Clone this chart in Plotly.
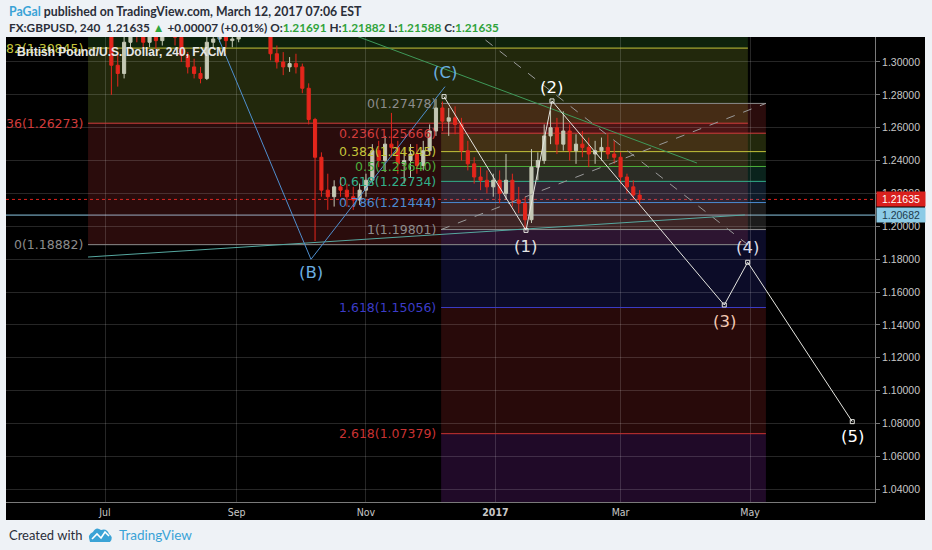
import plotly.graph_objects as go
import pandas as pd

# ------------------------------------------------------------------ data
bar_start = "2016-07-01"          # 3-day bars
opens = [1.332, 1.322, 1.298, 1.293, 1.312, 1.328, 1.318, 1.312, 1.318, 1.313, 1.322,
         1.330, 1.315, 1.304, 1.297, 1.293, 1.290, 1.312, 1.314, 1.322, 1.313,
         1.314, 1.330, 1.335, 1.328, 1.322, 1.324, 1.305, 1.300, 1.297, 1.299,
         1.297, 1.284, 1.265, 1.242, 1.222, 1.218, 1.224, 1.222, 1.218, 1.216,
         1.222, 1.228, 1.246, 1.240, 1.250, 1.248, 1.238, 1.240, 1.244, 1.237,
         1.246, 1.258, 1.272, 1.264, 1.266, 1.262, 1.246, 1.238, 1.230, 1.228, 1.224,
         1.228, 1.220, 1.228, 1.216, 1.214, 1.204, 1.236, 1.240, 1.255, 1.260,
         1.250, 1.258, 1.246, 1.250, 1.248, 1.244, 1.246, 1.248, 1.244,
         1.242, 1.230, 1.224, 1.219]
highs = [1.338, 1.330, 1.306, 1.318, 1.336, 1.332, 1.325, 1.324, 1.322, 1.326, 1.335,
         1.334, 1.318, 1.306, 1.302, 1.297, 1.318, 1.320, 1.326, 1.326, 1.318,
         1.335, 1.345, 1.340, 1.332, 1.330, 1.326, 1.310, 1.306, 1.303, 1.305,
         1.299, 1.287, 1.266, 1.245, 1.232, 1.228, 1.230, 1.226, 1.224, 1.226,
         1.232, 1.250, 1.252, 1.255, 1.269, 1.252, 1.248, 1.250, 1.250, 1.252,
         1.262, 1.2775, 1.276, 1.272, 1.273, 1.266, 1.252, 1.242, 1.236, 1.234, 1.232,
         1.234, 1.244, 1.232, 1.224, 1.218, 1.247, 1.245, 1.262, 1.2705, 1.266,
         1.270, 1.262, 1.256, 1.258, 1.254, 1.252, 1.254, 1.256, 1.252,
         1.245, 1.232, 1.228, 1.222]
lows = [1.318, 1.280, 1.285, 1.290, 1.308, 1.312, 1.308, 1.309, 1.308, 1.310, 1.318,
        1.310, 1.300, 1.293, 1.290, 1.287, 1.289, 1.308, 1.312, 1.309, 1.309,
        1.312, 1.325, 1.322, 1.318, 1.318, 1.301, 1.296, 1.292, 1.294, 1.293,
        1.281, 1.262, 1.191, 1.218, 1.210, 1.212, 1.218, 1.212, 1.210, 1.213,
        1.218, 1.226, 1.236, 1.233, 1.242, 1.232, 1.226, 1.230, 1.232, 1.234,
        1.243, 1.255, 1.258, 1.255, 1.256, 1.240, 1.234, 1.226, 1.222, 1.220, 1.218,
        1.214, 1.216, 1.212, 1.208, 1.198, 1.202, 1.228, 1.238, 1.250, 1.244,
        1.246, 1.240, 1.238, 1.242, 1.236, 1.238, 1.240, 1.241, 1.238,
        1.226, 1.220, 1.216, 1.2135]
closes = [1.322, 1.298, 1.293, 1.312, 1.328, 1.318, 1.312, 1.318, 1.313, 1.322, 1.330,
          1.315, 1.304, 1.297, 1.293, 1.290, 1.312, 1.314, 1.322, 1.313, 1.314,
          1.330, 1.335, 1.328, 1.322, 1.324, 1.305, 1.300, 1.297, 1.299, 1.297,
          1.284, 1.265, 1.242, 1.222, 1.218, 1.224, 1.222, 1.218, 1.216, 1.222,
          1.228, 1.246, 1.240, 1.250, 1.248, 1.238, 1.240, 1.244, 1.237, 1.246,
          1.258, 1.272, 1.264, 1.266, 1.262, 1.246, 1.238, 1.230, 1.228, 1.224, 1.228,
          1.220, 1.228, 1.216, 1.214, 1.204, 1.236, 1.240, 1.255, 1.260, 1.250,
          1.258, 1.246, 1.250, 1.248, 1.244, 1.246, 1.248, 1.244, 1.242,
          1.230, 1.224, 1.219, 1.21635]

last_price = 1.21635
hline_price = 1.20682

# Fibonacci retracement 1 (left, large)
fib1_levels = ["0", "0.236", "0.382", "0.5"]
fib1_prices = [1.18882, 1.26273, 1.30845, 1.34539]
fib1_labels = ["0(1.18882)", "36(1.26273)", "82(1.30845)", ""]   # visible (cut) parts
fib1_dates = ["2016-06-23", "2017-04-30"]
fib1_anchor_prices = [1.50199, 1.18882]

# Fibonacci retracement 2 (right)
fib2_levels = ["0", "0.236", "0.382", "0.5", "0.618", "0.786", "1", "1.618", "2.618", "3.618"]
fib2_prices = [1.27478, 1.25666, 1.24545, 1.23640, 1.22734, 1.21444, 1.19801, 1.15056, 1.07379, 0.99702]
fib2_dates = ["2016-12-06 10:00", "2017-05-08 12:00"]
fib2_anchor_prices = [1.19801, 1.27478]

# drawings
abc_dates = ["2016-08-15 16:00", "2016-10-06 02:00", "2016-12-08 06:00"]
abc_prices = [1.3385, 1.1799, 1.2850]
abc_labels = ["", "(B)", "(C)"]

wave_dates = ["2016-12-07 19:00", "2017-01-15 10:00", "2017-01-27 16:00",
              "2017-04-18 21:00", "2017-04-29 22:00", "2017-06-18 05:00"]
wave_prices = [1.2789, 1.1975, 1.2763, 1.1521, 1.1781, 1.0811]
wave_labels = ["", "(1)", "(2)", "(3)", "(4)", "(5)"]

green_dates = ["2016-10-19 18:00", "2017-04-06 00:00"]
green_prices = [1.3195, 1.2385]
teal_dates = ["2016-06-23", "2017-04-28 14:00"]
teal_prices = [1.1813, 1.2069]

x_ticks = ["2016-07-01", "2016-09-01", "2016-11-01", "2017-01-01", "2017-03-01", "2017-05-01"]
x_ticktext = ["Jul", "Sep", "Nov", "<b>2017</b>", "Mar", "May"]
x_range = ["2016-05-15 08:00", "2017-06-28 22:00"]
y_range = [1.0322, 1.3152]

# ------------------------------------------------------------------ styling
W, H = 932, 550
ML, MR, MT, MB = 6, 57, 37, 48
PW, PH = W - ML - MR, H - MT - MB

def px(x):
    return (x - ML) / PW

def py(y):
    return (H - MB - y) / PH

level_colors = {"0": "#8c8c8c", "0.236": "#d23c3c", "0.382": "#c4c43a", "0.5": "#4caf3c",
                "0.618": "#32b08a", "0.786": "#4a8ad0", "1": "#8c8c8c", "1.618": "#3c3cc8",
                "2.618": "#c83232", "3.618": "#a034c8"}
band_colors = dict(level_colors)
band_colors["0.382"] = "#a8c83c"

def rgba(hexc, a):
    h = hexc.lstrip("#")
    return "rgba(%d,%d,%d,%.3f)" % (int(h[0:2], 16), int(h[2:4], 16), int(h[4:6], 16), a)

dates = pd.date_range(bar_start, periods=len(closes), freq="3D")

fig = go.Figure()
shapes = []
annotations = []

# dark chart container
shapes.append(dict(type="rect", xref="paper", yref="paper", x0=0, x1=px(925), y0=py(520), y1=1,
                   fillcolor="#000000", line=dict(width=0), layer="below"))

def add_fib(levels, prices, dates_, labels, n_lines):
    for i in range(len(prices) - 1):
        shapes.append(dict(type="rect", xref="x", yref="y", x0=dates_[0], x1=dates_[1],
                           y0=prices[i], y1=prices[i + 1],
                           fillcolor=rgba(band_colors[levels[i + 1]], 0.2),
                           line=dict(width=0), layer="below"))
    for i in range(n_lines):
        shapes.append(dict(type="line", xref="x", yref="y", x0=dates_[0], x1=dates_[1],
                           y0=prices[i], y1=prices[i], layer="between",
                           line=dict(color=level_colors[levels[i]], width=1)))
        if labels[i]:
            annotations.append(dict(x=dates_[0], y=prices[i], xref="x", yref="y",
                                    text=labels[i], showarrow=False, xanchor="right",
                                    yanchor="middle", xshift=-3,
                                    font=dict(family="DejaVu Sans", size=12.5,
                                              color=level_colors[levels[i]])))

add_fib(fib1_levels, fib1_prices, fib1_dates, fib1_labels, 3)
fib2_labels = ["%s(%.5f)" % (l, p) for l, p in zip(fib2_levels, fib2_prices)]
add_fib(fib2_levels, fib2_prices, fib2_dates, fib2_labels, 9)

# price lines
shapes.append(dict(type="line", xref="paper", yref="y", x0=0, x1=1, y0=hline_price, y1=hline_price,
                   line=dict(color="#8cc8e4", width=1), layer="between"))
shapes.append(dict(type="line", xref="paper", yref="y", x0=0, x1=1, y0=last_price, y1=last_price,
                   line=dict(color="#e0201b", width=1, dash="dot"), layer="between"))

# candles
fig.add_trace(go.Candlestick(
    x=dates, open=opens, high=highs, low=lows, close=closes,
    increasing=dict(line=dict(color="#c4c8b4", width=1), fillcolor="#c4c8b4"),
    decreasing=dict(line=dict(color="#e3261c", width=1), fillcolor="#e3261c"),
    whiskerwidth=0, showlegend=False, hoverinfo="skip"))

# fib trend (dashed) lines
for d, p in [(fib1_dates, fib1_anchor_prices), (fib2_dates, fib2_anchor_prices)]:
    fig.add_trace(go.Scatter(x=d, y=p, mode="lines", showlegend=False, hoverinfo="skip",
                             line=dict(color="#9a9a9a", width=1, dash="dash")))

fig.add_trace(go.Scatter(x=teal_dates, y=teal_prices, mode="lines", showlegend=False,
                         hoverinfo="skip", line=dict(color="#56a8a0", width=1)))
fig.add_trace(go.Scatter(x=green_dates, y=green_prices, mode="lines", showlegend=False,
                         hoverinfo="skip", line=dict(color="#3f9a5a", width=1)))
fig.add_trace(go.Scatter(x=abc_dates, y=abc_prices, mode="lines", showlegend=False,
                         hoverinfo="skip", line=dict(color="#4f8fcf", width=1)))
fig.add_trace(go.Scatter(x=wave_dates, y=wave_prices, mode="lines+markers", showlegend=False,
                         hoverinfo="skip", line=dict(color="#e6e6e0", width=1),
                         marker=dict(symbol="square-open", size=4, color="#e6e6e0")))

abc_shift = [0, -13, 14]
for d, p, t, s in zip(abc_dates, abc_prices, abc_labels, abc_shift):
    if t:
        annotations.append(dict(x=d, y=p, xref="x", yref="y", text=t, showarrow=False,
                                yshift=s, font=dict(family="DejaVu Sans", size=16.5, color="#6aaee0")))
wave_shift = [0, -16, 13, -17, 15, -15]
wave_colors = ["", "#e4e4e4", "#ffffff", "#f3c9b4", "#dcdce8", "#ffffff"]
for d, p, t, s, c in zip(wave_dates, wave_prices, wave_labels, wave_shift, wave_colors):
    if t:
        annotations.append(dict(x=d, y=p, xref="x", yref="y", text=t, showarrow=False,
                                yshift=s, font=dict(family="DejaVu Sans", size=16.5, color=c)))

# chart title inside
annotations.append(dict(x=px(15), y=py(52), xref="paper", yref="paper", xanchor="left",
                        yanchor="middle", showarrow=False,
                        text="British Pound/U.S. Dollar, 240, FXCM",
                        font=dict(family="Liberation Sans", size=12, color="#e6e6e6", weight="bold")))

# axis price boxes
annotations.append(dict(x=px(876), y=last_price, xref="paper", yref="y", xanchor="left",
                        yanchor="middle", showarrow=False, text="1.21635", width=46,
                        bgcolor="#d9201d", borderpad=1,
                        font=dict(family="Liberation Sans", size=10.5, color="#ffffff")))
annotations.append(dict(x=px(876), y=hline_price, xref="paper", yref="y", xanchor="left",
                        yanchor="middle", showarrow=False, text="1.20682", width=46,
                        bgcolor="#8ccbe6", borderpad=1,
                        font=dict(family="Liberation Sans", size=10.5, color="#1d3b4c")))

# header
G = "#2fa33a"
annotations.append(dict(x=px(7), y=py(11), xref="paper", yref="paper", xanchor="left",
                        yanchor="middle", showarrow=False,
                        text='<span style="color:#3aa3d6">PaGal</span> published on TradingView.com, March 12, 2017 07:06 EST',
                        font=dict(family="Lato", size=12.3, color="#2a2e39", weight="bold")))
annotations.append(dict(x=px(7), y=py(27), xref="paper", yref="paper", xanchor="left",
                        yanchor="middle", showarrow=False,
                        text=('FX:GBPUSD, 240 \u00a01.21635 <span style="color:%s">\u25b2</span> +0.00007 (+0.01%%) '
                              'O:<span style="color:%s">1.21691</span> H:<span style="color:%s">1.21882</span> '
                              'L:<span style="color:%s">1.21588</span> C:<span style="color:%s">1.21635</span>') % (G, G, G, G, G),
                        font=dict(family="Lato", size=11.8, color="#2a2e39", weight="bold")))

# footer
annotations.append(dict(x=px(7), y=py(535), xref="paper", yref="paper", xanchor="left",
                        yanchor="middle", showarrow=False, text="Created with",
                        font=dict(family="Lato", size=13, color="#2a2e39")))
annotations.append(dict(x=px(117), y=py(535), xref="paper", yref="paper", xanchor="left",
                        yanchor="middle", showarrow=False, text="TradingView",
                        font=dict(family="Lato", size=13.5, color="#3aa3d6")))
cloud = "M {},{} L {},{} Q {},{} {},{} Q {},{} {},{} Q {},{} {},{} Q {},{} {},{} Z".format(
    px(90), py(542), px(110), py(542), px(114), py(537), px(109), py(534),
    px(107), py(528), px(101), py(530), px(96), py(526), px(93), py(532),
    px(87), py(534), px(90), py(542))
shapes.append(dict(type="path", xref="paper", yref="paper", path=cloud,
                   fillcolor="#3aa3d6", line=dict(width=0)))
zig = "M {},{} L {},{} L {},{} L {},{} L {},{}".format(
    px(92), py(539), px(97), py(534), px(101), py(538), px(105), py(532), px(109), py(536))
shapes.append(dict(type="path", xref="paper", yref="paper", path=zig,
                   line=dict(color="#ffffff", width=1.6)))

fig.update_layout(
    width=W, height=H, margin=dict(l=ML, r=MR, t=MT, b=MB),
    paper_bgcolor="#eef2f6", plot_bgcolor="#000000",
    shapes=shapes, annotations=annotations, showlegend=False,
    xaxis=dict(type="date", range=x_range, rangeslider=dict(visible=False),
               tickvals=x_ticks, ticktext=x_ticktext, ticks="",
               showgrid=True, gridcolor="rgba(255,255,255,0.15)", gridwidth=1,
               showline=True, linecolor="#7a7a7a", linewidth=1, zeroline=False,
               tickfont=dict(family="Liberation Sans Narrow, DejaVu Sans Condensed, Liberation Sans",
                             size=10.5, color="#c8c8c8")),
    yaxis=dict(side="right", range=y_range, tick0=1.0, dtick=0.02, tickformat=".5f",
               ticks="outside", ticklen=4, tickcolor="#777777",
               showgrid=True, gridcolor="rgba(255,255,255,0.15)", gridwidth=1,
               showline=True, linecolor="#7a7a7a", linewidth=1, zeroline=False,
               tickfont=dict(family="Liberation Sans", size=10.5, color="#c8c8c8")),
)

fig.write_html("out.html", config={"displayModeBar": False},
               post_script="document.body.style.margin='0px';document.body.style.overflow='hidden';")
